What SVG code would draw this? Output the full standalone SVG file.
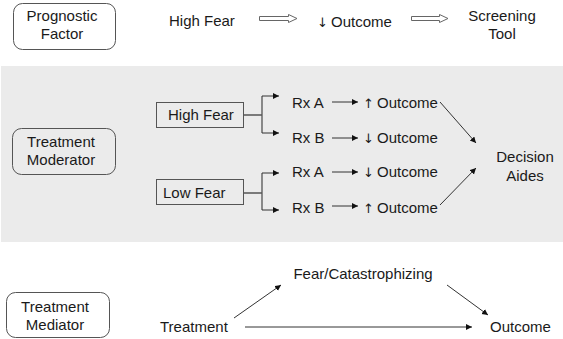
<svg xmlns="http://www.w3.org/2000/svg" width="563" height="339" viewBox="0 0 563 339">
<defs>
<style>
text{font-family:"Liberation Sans",Arial,sans-serif;font-size:15px;fill:#1a1a1a}
.c{text-anchor:middle}
.ar{font-family:"DejaVu Sans",sans-serif;font-size:13px}
.box{fill:none;stroke:#555;stroke-width:1}
.ln{fill:none;stroke:#333;stroke-width:1}
.br{fill:none;stroke:#555;stroke-width:1.3}
.hol{fill:#fff;stroke:#666;stroke-width:1}
</style>
<marker id="ah" markerUnits="userSpaceOnUse" markerWidth="8" markerHeight="8" refX="6" refY="3" orient="auto">
<path d="M0,0 L6,3 L0,6 Z" fill="#111"/>
</marker>
</defs>
<rect x="1" y="66" width="562" height="176" fill="#ebebeb"/>

<g id="prognostic-factor">
<rect class="box" x="13.5" y="3.5" width="102" height="46" rx="9"/>
<text class="c" x="62" y="21">Prognostic</text>
<text class="c" x="62" y="39">Factor</text>
</g>
<g id="high-fear-top"><text x="169" y="26">High Fear</text></g>
<g id="outcome-top"><text x="317" y="27"><tspan class="ar">↓</tspan><tspan x="331">Outcome</tspan></text></g>
<g id="screening-tool">
<text class="c" x="502" y="21">Screening</text>
<text class="c" x="502" y="39">Tool</text>
</g>

<g id="treatment-moderator">
<rect class="box" x="12.5" y="128.5" width="103" height="46" rx="9"/>
<text class="c" x="61" y="147">Treatment</text>
<text class="c" x="61" y="165">Moderator</text>
</g>
<g id="high-fear-box">
<rect class="box" x="156.5" y="102.5" width="87" height="25"/>
<text x="168" y="120">High Fear</text>
</g>
<g id="low-fear-box">
<rect class="box" x="156.5" y="179.5" width="87" height="25"/>
<text x="163" y="198">Low Fear</text>
</g>
<g id="rx-a-1"><text x="292" y="108">Rx A</text></g>
<g id="rx-b-1"><text x="292" y="143">Rx B</text></g>
<g id="rx-a-2"><text x="292" y="177">Rx A</text></g>
<g id="rx-b-2"><text x="292" y="213">Rx B</text></g>
<g id="out-1"><text x="363" y="108"><tspan class="ar">↑</tspan><tspan x="377">Outcome</tspan></text></g>
<g id="out-2"><text x="363" y="143"><tspan class="ar">↓</tspan><tspan x="377">Outcome</tspan></text></g>
<g id="out-3"><text x="363" y="177"><tspan class="ar">↓</tspan><tspan x="377">Outcome</tspan></text></g>
<g id="out-4"><text x="363" y="213"><tspan class="ar">↑</tspan><tspan x="377">Outcome</tspan></text></g>
<g id="decision-aides">
<text class="c" x="525" y="162">Decision</text>
<text class="c" x="525" y="181">Aides</text>
</g>

<g id="treatment-mediator">
<rect class="box" x="6.5" y="292.5" width="103" height="45" rx="9"/>
<text class="c" x="55" y="312">Treatment</text>
<text class="c" x="55" y="330">Mediator</text>
</g>
<g id="fear-catastrophizing"><text class="c" x="363" y="279">Fear/Catastrophizing</text></g>
<g id="treatment"><text x="160" y="332">Treatment</text></g>
<g id="outcome-bottom"><text x="490" y="332">Outcome</text></g>

<g id="connectors">
<path class="hol" d="M259.5,16.5 H288.5 V14.5 L297,18.5 L288.5,22.5 V20.5 H259.5 Z"/>
<path class="hol" d="M411.5,16.5 H439.5 V14.5 L448,18.5 L439.5,22.5 V20.5 H411.5 Z"/>

<path class="br" d="M244,115 H262 M262,96 V133"/>
<path class="ln" d="M262,96 H279" marker-end="url(#ah)"/>
<path class="ln" d="M262,133 H279" marker-end="url(#ah)"/>
<path class="br" d="M244,193 H262 M262,173 V210"/>
<path class="ln" d="M262,173 H279" marker-end="url(#ah)"/>
<path class="ln" d="M262,210 H279" marker-end="url(#ah)"/>

<path class="ln" d="M332,102 H358" marker-end="url(#ah)"/>
<path class="ln" d="M332,138 H358" marker-end="url(#ah)"/>
<path class="ln" d="M332,172 H358" marker-end="url(#ah)"/>
<path class="ln" d="M332,206 H358" marker-end="url(#ah)"/>

<path class="ln" d="M440,102 L476,143" marker-end="url(#ah)"/>
<path class="ln" d="M440,205 L476,168" marker-end="url(#ah)"/>

<path class="ln" d="M234,318 L281,285" marker-end="url(#ah)"/>
<path class="ln" d="M447,285 L488,315" marker-end="url(#ah)"/>
<path class="ln" d="M245,327 H472" marker-end="url(#ah)"/>
</g>
</svg>
